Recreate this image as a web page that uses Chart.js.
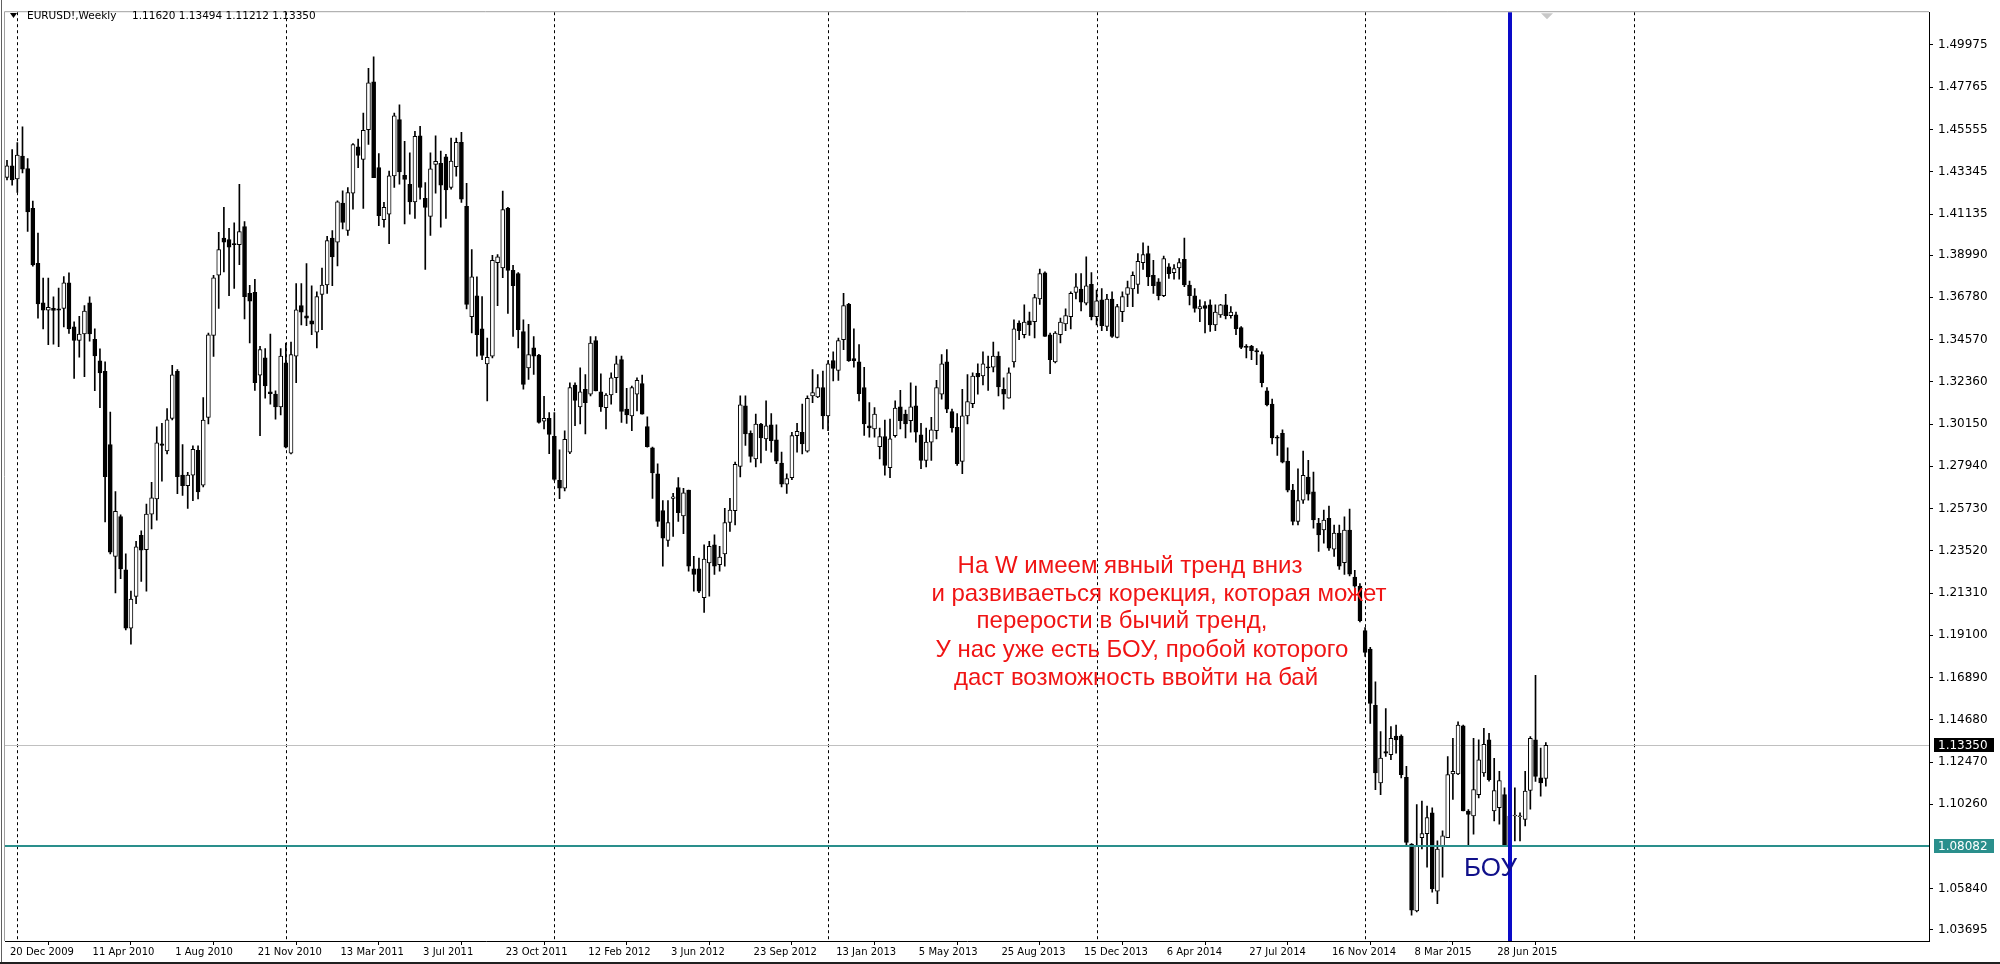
<!DOCTYPE html>
<html><head><meta charset="utf-8">
<script src="https://cdn.jsdelivr.net/npm/chart.js@4.4.1/dist/chart.umd.min.js"></script>
<style>
html,body{margin:0;padding:0;background:#fff;overflow:hidden;}
#wrap{position:relative;width:2000px;height:964px;}
</style></head><body>
<div id="wrap"><canvas id="c"></canvas></div>
<script>
// ---- data (EURUSD weekly, one entry per week starting 20 Dec 2009) ----
const symbolName = 'EURUSD!,Weekly';
const headerQuote = '1.11620 1.13494 1.11212 1.13350';
const openP = [
1.4305,1.4366,1.4297,1.4416,1.4351,1.4143,1.3856,1.3649,1.3610,1.3620,1.3618,1.3619,1.3754,1.3523,1.3452,1.3486,1.3649,1.3458,1.3346,1.3290,
1.2907,1.2323,1.2531,1.2253,1.1947,1.2113,1.2433,1.2358,1.2544,1.2623,1.2912,1.2874,1.3044,1.3291,1.2748,1.2692,1.2748,1.2877,1.2695,1.3050,
1.3478,1.3793,1.3987,1.3980,1.3958,1.3953,1.4048,1.3698,1.3704,1.3271,1.3361,1.3184,1.3171,1.3105,1.3335,1.2863,1.3370,1.3634,1.3581,1.3555,
1.3496,1.3693,1.3742,1.3987,1.3966,1.4170,1.4027,1.4222,1.4465,1.4399,1.4555,1.4805,1.4356,1.4084,1.4113,1.4313,1.4607,1.4316,1.4269,1.4177,
1.4523,1.4195,1.4101,1.4373,1.4378,1.4413,1.4252,1.4361,1.4489,1.4153,1.3577,1.3686,1.3513,1.3330,1.3370,1.3859,1.3831,1.4143,1.3819,1.3802,
1.3499,1.3309,1.3413,1.3375,1.3030,1.3045,1.2950,1.2720,1.2680,1.2868,1.3219,1.3105,1.3197,1.3171,1.3451,1.3184,1.3101,1.3167,1.3257,1.3352,
1.3093,1.3058,1.3171,1.3226,1.3001,1.2890,1.2755,1.2562,1.2406,1.2626,1.2683,1.2534,1.2669,1.2257,1.2257,1.2107,1.2288,1.2383,1.2280,1.2336,
1.2500,1.2562,1.2793,1.3110,1.2966,1.2833,1.3015,1.2937,1.3011,1.2932,1.2811,1.2700,1.2735,1.2954,1.2972,1.2873,1.3162,1.3157,1.3205,1.3058,
1.3347,1.3295,1.3456,1.3641,1.3357,1.3340,1.3205,1.3006,1.2989,1.2897,1.2949,1.2787,1.2954,1.3105,1.3067,1.3032,1.3110,1.2958,1.2825,1.2920,
1.2980,1.3171,1.3340,1.3080,1.2998,1.2820,1.3058,1.3122,1.3280,1.3266,1.3313,1.3313,1.3370,1.3197,1.3150,1.3340,1.3543,1.3482,1.3555,1.3551,
1.3669,1.3806,1.3482,1.3340,1.3482,1.3538,1.3577,1.3703,1.3721,1.3647,1.3745,1.3577,1.3664,1.3525,1.3669,1.3468,1.3603,1.3693,1.3721,1.3745,
1.3859,1.3906,1.3793,1.3759,1.3686,1.3837,1.3807,1.3832,1.3876,1.3742,1.3686,1.3617,1.3634,1.3638,1.3534,1.3586,1.3638,1.3582,1.3586,1.3520,
1.3421,1.3421,1.3399,1.3378,1.3188,1.3119,1.2946,1.2966,1.2821,1.2669,1.2505,1.2617,1.2738,1.2660,1.2496,1.2461,1.2522,1.2361,1.2444,1.2290,
1.2460,1.2215,1.2167,1.1934,1.1838,1.1544,1.1138,1.1302,1.1285,1.1383,1.1383,1.1167,1.0818,1.0468,1.0852,1.0873,1.0982,1.0572,1.0809,1.0852,
1.1185,1.1185,1.1437,1.0991,1.0965,1.1077,1.1190,1.1363,1.0991,1.1008,1.1077,1.0809,1.0965,1.0961,1.0947,1.1098,1.1363,1.1164,1.11620];
const highP = [
1.4394,1.4450,1.4487,1.4570,1.4403,1.4181,1.4014,1.3778,1.3778,1.3680,1.3726,1.3786,1.3806,1.3550,1.3578,1.3634,1.3680,1.3513,1.3408,1.3340,
1.3077,1.2661,1.2540,1.2336,1.2141,1.2401,1.2457,1.2596,1.2710,1.3000,1.3018,1.3096,1.3322,1.3300,1.2907,1.2762,1.2901,1.2901,1.3153,1.3491,
1.3793,1.4018,1.4148,1.4039,1.4067,1.4269,1.4074,1.3741,1.3772,1.3421,1.3409,1.3485,1.3188,1.3409,1.3439,1.3444,1.3750,1.3750,1.3854,1.3738,
1.3707,1.3831,1.3997,1.4027,1.4183,1.4235,1.4252,1.4482,1.4506,1.4641,1.4875,1.4935,1.4430,1.4174,1.4338,1.4641,1.4684,1.4494,1.4434,1.4546,
1.4572,1.4278,1.4434,1.4523,1.4442,1.4425,1.4511,1.4511,1.4541,1.4274,1.3928,1.3785,1.3681,1.3465,1.3897,1.3901,1.4234,1.4148,1.3845,1.3807,
1.3560,1.3537,1.3473,1.3380,1.3160,1.3075,1.3075,1.2880,1.2980,1.3230,1.3231,1.3309,1.3274,1.3473,1.3473,1.3278,1.3174,1.3283,1.3370,1.3370,
1.3202,1.3214,1.3257,1.3271,1.3053,1.2894,1.2807,1.2614,1.2614,1.2652,1.2735,1.2678,1.2669,1.2323,1.2314,1.2383,1.2401,1.2435,1.2375,1.2574,
1.2626,1.2816,1.3162,1.3162,1.2980,1.3067,1.3018,1.3136,1.3070,1.3011,1.2868,1.2755,1.2972,1.3018,1.3119,1.3162,1.3300,1.3274,1.3292,1.3347,
1.3392,1.3465,1.3698,1.3646,1.3513,1.3430,1.3312,1.3127,1.3101,1.2994,1.3036,1.3041,1.3136,1.3191,1.3088,1.3231,1.3214,1.3019,1.2994,1.3050,
1.3243,1.3378,1.3404,1.3093,1.3070,1.3197,1.3274,1.3283,1.3330,1.3392,1.3370,1.3444,1.3392,1.3257,1.3309,1.3560,1.3555,1.3638,1.3600,1.3693,
1.3825,1.3811,1.3491,1.3499,1.3569,1.3617,1.3707,1.3802,1.3802,1.3889,1.3807,1.3716,1.3724,1.3693,1.3707,1.3641,1.3707,1.3762,1.3811,1.3906,
1.3963,1.3946,1.3871,1.3776,1.3894,1.3854,1.3849,1.3880,1.3987,1.3762,1.3724,1.3664,1.3655,1.3664,1.3638,1.3641,1.3693,1.3629,1.3600,1.3525,
1.3430,1.3426,1.3409,1.3392,1.3205,1.3145,1.2954,1.2984,1.2890,1.2700,1.2781,1.2873,1.2825,1.2764,1.2522,1.2565,1.2586,1.2487,1.2487,1.2530,
1.2570,1.2250,1.2180,1.1950,1.1847,1.1666,1.1406,1.1527,1.1432,1.1441,1.1389,1.1224,1.0821,1.1025,1.1043,1.1017,1.1008,1.0835,1.0887,1.1276,
1.1371,1.1458,1.1441,1.0999,1.1371,1.1363,1.1423,1.1397,1.1267,1.1198,1.1112,1.1008,1.1112,1.0982,1.1198,1.1380,1.1700,1.1320,1.13494];
const lowP = [
1.4292,1.4264,1.4227,1.4329,1.4023,1.3841,1.3569,1.3513,1.3430,1.3433,1.3420,1.3523,1.3489,1.3254,1.3365,1.3263,1.3448,1.3189,1.3100,1.2503,
1.2336,1.2132,1.2206,1.1938,1.1863,1.2076,1.2192,1.2141,1.2466,1.2512,1.2716,1.2859,1.3037,1.2651,1.2642,1.2573,1.2614,1.2623,1.2686,1.3015,
1.3369,1.3620,1.3811,1.3686,1.3724,1.3849,1.3565,1.3439,1.3191,1.2954,1.3150,1.3119,1.3041,1.3063,1.2890,1.2859,1.3231,1.3534,1.3530,1.3482,
1.3413,1.3508,1.3698,1.3738,1.3842,1.4036,1.4001,1.4139,1.4356,1.4143,1.4477,1.4304,1.4053,1.4044,1.3958,1.4252,1.4269,1.4061,1.4113,1.4091,
1.4191,1.3824,1.4001,1.4223,1.4044,1.4091,1.4243,1.4312,1.4174,1.3617,1.3491,1.3370,1.3352,1.3136,1.3361,1.3634,1.3780,1.3594,1.3473,1.3413,
1.3197,1.3248,1.3274,1.3020,1.2990,1.2860,1.2720,1.2625,1.2665,1.2860,1.3006,1.3015,1.2963,1.3162,1.3188,1.3081,1.2989,1.3119,1.3179,1.3024,
1.3018,1.2980,1.3084,1.3067,1.2894,1.2626,1.2479,1.2271,1.2375,1.2427,1.2505,1.2441,1.2245,1.2141,1.2133,1.2029,1.2115,1.2228,1.2245,1.2271,
1.2453,1.2487,1.2738,1.2903,1.2816,1.2790,1.2811,1.2877,1.2868,1.2807,1.2686,1.2652,1.2724,1.2868,1.2859,1.2868,1.3127,1.3153,1.2989,1.2980,
1.3240,1.3243,1.3404,1.3343,1.3312,1.3136,1.2955,1.2946,1.2946,1.2833,1.2747,1.2735,1.2946,1.2989,1.2942,1.2972,1.2920,1.2781,1.2790,1.2825,
1.2937,1.3145,1.3075,1.2972,1.2799,1.2755,1.3015,1.3101,1.3171,1.3219,1.3191,1.3288,1.3162,1.3093,1.3150,1.3313,1.3456,1.3465,1.3478,1.3465,
1.3641,1.3473,1.3278,1.3335,1.3439,1.3503,1.3513,1.3669,1.3607,1.3638,1.3560,1.3534,1.3503,1.3503,1.3468,1.3465,1.3551,1.3629,1.3629,1.3698,
1.3824,1.3738,1.3698,1.3664,1.3681,1.3776,1.3773,1.3773,1.3733,1.3638,1.3600,1.3551,1.3491,1.3499,1.3503,1.3572,1.3565,1.3569,1.3482,1.3409,
1.3361,1.3352,1.3326,1.3209,1.3110,1.2911,1.2851,1.2811,1.2660,1.2487,1.2487,1.2600,1.2617,1.2470,1.2349,1.2392,1.2354,1.2323,1.2254,1.2228,
1.2220,1.2160,1.1980,1.1800,1.1449,1.1103,1.1077,1.1276,1.1259,1.1294,1.1164,1.0809,1.0446,1.0463,1.0792,1.0697,1.0567,1.0506,1.0645,1.0852,
1.1051,1.1181,1.0991,1.0809,1.0870,1.1060,1.1172,1.1147,1.0939,1.0922,1.0809,1.0800,1.0835,1.0835,1.0913,1.1000,1.1146,1.1069,1.11212];
const closeP = [
1.4366,1.4292,1.4422,1.4348,1.4125,1.3847,1.3643,1.3610,1.3625,1.3609,1.3610,1.3754,1.3513,1.3452,1.3486,1.3606,1.3486,1.3371,1.3282,1.2740,
1.2345,1.2559,1.2257,1.1947,1.2099,1.2373,1.2355,1.2544,1.2629,1.2916,1.2903,1.3037,1.3272,1.2740,1.2692,1.2748,1.2883,1.2660,1.3036,1.3482,
1.3779,1.3928,1.3966,1.3940,1.3953,1.4022,1.3681,1.3658,1.3231,1.3404,1.3214,1.3174,1.3105,1.3370,1.2894,1.3378,1.3612,1.3600,1.3569,1.3537,
1.3681,1.3742,1.3975,1.3889,1.4177,1.4070,1.4226,1.4477,1.4420,1.4551,1.4800,1.4304,1.4105,1.4148,1.4313,1.4627,1.4333,1.4295,1.4177,1.4520,
1.4252,1.4148,1.4350,1.4389,1.4264,1.4240,1.4390,1.4489,1.4191,1.3641,1.3785,1.3482,1.3374,1.3364,1.3871,1.3889,1.4136,1.3819,1.3738,1.3508,
1.3222,1.3378,1.3370,1.3024,1.3045,1.2960,1.2725,1.2680,1.2935,1.3205,1.3139,1.3184,1.3127,1.3439,1.3188,1.3105,1.3167,1.3257,1.3330,1.3081,
1.3063,1.3205,1.3243,1.3067,1.2897,1.2759,1.2505,1.2418,1.2500,1.2634,1.2551,1.2655,1.2271,1.2228,1.2141,1.2309,1.2375,1.2271,1.2319,1.2500,
1.2565,1.2804,1.3115,1.2963,1.2845,1.3015,1.2942,1.3006,1.2928,1.2821,1.2700,1.2729,1.2954,1.2977,1.2911,1.3150,1.3179,1.3205,1.3058,1.3330,
1.3306,1.3451,1.3634,1.3347,1.3347,1.3174,1.3015,1.2994,1.3067,1.2949,1.2799,1.2937,1.3098,1.3032,1.3015,1.3105,1.2972,1.2825,1.2920,1.2984,
1.3205,1.3330,1.3093,1.2994,1.2807,1.3058,1.3133,1.3266,1.3261,1.3330,1.3309,1.3370,1.3209,1.3171,1.3283,1.3513,1.3503,1.3548,1.3534,1.3676,
1.3802,1.3473,1.3352,1.3491,1.3548,1.3582,1.3698,1.3733,1.3652,1.3738,1.3577,1.3659,1.3530,1.3669,1.3473,1.3629,1.3681,1.3728,1.3793,1.3866,
1.3901,1.3785,1.3738,1.3686,1.3880,1.3802,1.3828,1.3859,1.3742,1.3686,1.3620,1.3629,1.3620,1.3534,1.3600,1.3638,1.3582,1.3600,1.3513,1.3416,
1.3416,1.3399,1.3392,1.3231,1.3115,1.2942,1.2941,1.2816,1.2669,1.2505,1.2614,1.2747,1.2648,1.2513,1.2435,1.2513,1.2366,1.2444,1.2271,1.2460,
1.2230,1.2167,1.1986,1.1821,1.1553,1.1190,1.1268,1.1294,1.1371,1.1363,1.1181,1.0826,1.0472,1.0809,1.0873,1.0956,1.0584,1.0792,1.0861,1.1181,
1.1198,1.1441,1.0991,1.0973,1.1103,1.1259,1.1340,1.1155,1.1098,1.1150,1.0809,1.0965,1.0970,1.0966,1.1095,1.1371,1.1172,1.1138,1.13350];

const dateLabels = ['20 Dec 2009','11 Apr 2010','1 Aug 2010','21 Nov 2010','13 Mar 2011','3 Jul 2011','23 Oct 2011','12 Feb 2012','3 Jun 2012','23 Sep 2012','13 Jan 2013','5 May 2013','25 Aug 2013','15 Dec 2013','6 Apr 2014','27 Jul 2014','16 Nov 2014','8 Mar 2015','28 Jun 2015'];
const dateLabelIdx = [0,16,32,48,64,80,96,112,128,144,160,176,192,208,224,240,256,272,288];
const yearStartIdx = [2,54,106,159,211,263,315];
const priceTicks = [1.49975,1.47765,1.45555,1.43345,1.41135,1.38990,1.36780,1.34570,1.32360,1.30150,1.27940,1.25730,1.23520,1.21310,1.19100,1.16890,1.14680,1.12470,1.10260,1.05840,1.03695];
const bouLevel = 1.08082;
const lastPrice = 1.13350;
const markIdx = 291;
const noteLines = ['На W имеем явный тренд вниз','и развиваеться корекция, которая может','перерости в бычий тренд,','У нас уже есть БОУ, пробой которого','даст возможность ввойти на бай'];
const bouLabel = 'БОУ';

// ---- chart ----
const FONT = '"DejaVu Sans", sans-serif';
const PRICE_FONT_SIZE = 12;
Chart.defaults.font.family = FONT;
Chart.defaults.color = '#000';

const bodies = openP.map((o,i)=>({x:i, y:[Math.min(o,closeP[i]), Math.max(o,closeP[i])]}));
const wicks = openP.map((o,i)=>({x:i, y:[lowP[i], highP[i]]}));
const bodyColors = openP.map((o,i)=> closeP[i] >= o ? '#ffffff' : '#000000');

const overlay = {
  id:'overlay',
  beforeDatasetsDraw(chart){
    const {ctx, chartArea:a, scales:{x,y}} = chart;
    ctx.save();
    ctx.strokeStyle = '#000'; ctx.lineWidth = 1; ctx.setLineDash([3,3]);
    yearStartIdx.forEach(v=>{
      const px = Math.round(x.getPixelForValue(v)) + 0.5;
      if (px < a.left || px > a.right) return;
      ctx.beginPath(); ctx.moveTo(px, a.top); ctx.lineTo(px, a.bottom); ctx.stroke();
    });
    ctx.setLineDash([]);
    const py = Math.round(y.getPixelForValue(lastPrice)) + 0.5;
    ctx.strokeStyle = '#c0c0c0';
    ctx.beginPath(); ctx.moveTo(a.left, py); ctx.lineTo(a.right, py); ctx.stroke();
    ctx.restore();
  },
  afterDatasetsDraw(chart){
    const {ctx, chartArea:a, scales:{x,y}} = chart;
    ctx.save();
    const by = y.getPixelForValue(bouLevel);
    ctx.fillStyle = '#2a8f8c';
    ctx.fillRect(a.left, Math.round(by) - 1, a.right - a.left, 2);
    const mx = x.getPixelForValue(markIdx);
    ctx.fillStyle = '#0a0ac8';
    ctx.fillRect(Math.round(mx) - 2, a.top, 4, a.bottom - a.top);
    ctx.fillStyle = '#f01414';
    ctx.font = '24px "Liberation Sans", Arial, sans-serif';
    ctx.textAlign = 'center'; ctx.textBaseline = 'middle';
    const cx = [1130,1159,1122,1142,1136];
    const cy = [566,594,621,650,678];
    noteLines.forEach((t,i)=> ctx.fillText(t, cx[i], cy[i]));
    ctx.fillStyle = '#10108a';
    ctx.font = '26px "Liberation Sans", Arial, sans-serif';
    ctx.textAlign = 'left';
    ctx.fillText(bouLabel, 1464, 869);
    ctx.fillStyle = '#c8c8c8';
    ctx.beginPath(); ctx.moveTo(1541, a.top+1); ctx.lineTo(1553, a.top+1); ctx.lineTo(1547, a.top+7); ctx.closePath(); ctx.fill();
    ctx.restore();
  },
  afterDraw(chart){
    const {ctx, chartArea:a, scales:{y}} = chart;
    ctx.save();
    ctx.strokeStyle = '#a0a0a0'; ctx.lineWidth = 1;
    ctx.beginPath(); ctx.moveTo(a.left-0.5, a.bottom); ctx.lineTo(a.left-0.5, a.top-0.5); ctx.lineTo(a.right, a.top-0.5); ctx.stroke();
    ctx.strokeStyle = '#606060';
    ctx.beginPath(); ctx.moveTo(1.5, 0); ctx.lineTo(1.5, 964); ctx.stroke();
    ctx.font = PRICE_FONT_SIZE + 'px ' + FONT; ctx.textBaseline = 'middle'; ctx.textAlign = 'left';
    const box = (val, bg)=>{
      const yy = Math.round(y.getPixelForValue(val));
      ctx.fillStyle = bg; ctx.fillRect(a.right+5, yy-7, 60, 14);
      ctx.fillStyle = '#fff'; ctx.fillText(val.toFixed(5), a.right+9, yy+0.5);
    };
    box(lastPrice, '#000');
    box(bouLevel, '#2a8f8c');
    ctx.fillStyle = '#000';
    ctx.beginPath(); ctx.moveTo(10, 13); ctx.lineTo(17, 13); ctx.lineTo(13.5, 18); ctx.closePath(); ctx.fill();
    ctx.font = '10.5px ' + FONT;
    ctx.fillText(symbolName, 27, 16);
    ctx.fillText(headerQuote, 132, 16);
    ctx.fillStyle = '#202020'; ctx.fillRect(0, 962, 2000, 2);
    ctx.restore();
  }
};

new Chart(document.getElementById('c'), {
  type:'bar',
  data:{
    datasets:[
      {label:'body', data:bodies, backgroundColor:bodyColors, borderColor:'#000', borderWidth:1, borderSkipped:false, barThickness:4, minBarLength:1, grouped:false},
      {label:'wick', data:wicks, backgroundColor:'#000', borderWidth:0, barThickness:1, grouped:false}
    ]
  },
  options:{
    responsive:true, maintainAspectRatio:false, animation:false,
    layout:{padding:{left:5, top:5, right:0, bottom:0}},
    plugins:{legend:{display:false}, tooltip:{enabled:false}},
    scales:{
      x:{type:'linear', position:'bottom', min:-0.387, max:372.2, offset:false,
        grid:{drawOnChartArea:false, drawTicks:true, tickLength:4, color:'#000'},
        border:{display:true, color:'#000'},
        ticks:{autoSkip:false, maxRotation:0, align:'start', labelOffset:3, padding:1, font:{size:10},
          callback:(v,i)=>dateLabels[i]},
        afterBuildTicks:s=>{ s.ticks = dateLabelIdx.map(v=>({value:v})); },
        afterFit:s=>{ s.height = 23; }
      },
      y:{type:'linear', position:'right', min:1.0311, max:1.5169,
        grid:{drawOnChartArea:false, drawTicks:true, tickLength:4, color:'#000'},
        border:{display:true, color:'#000'},
        ticks:{padding:5, font:{size:PRICE_FONT_SIZE}, callback:v=>Number(v).toFixed(5)},
        afterBuildTicks:s=>{ s.ticks = priceTicks.map(v=>({value:v})); },
        afterFit:s=>{ s.width = 71; }
      }
    }
  },
  plugins:[overlay]
});
</script>
</body></html>
